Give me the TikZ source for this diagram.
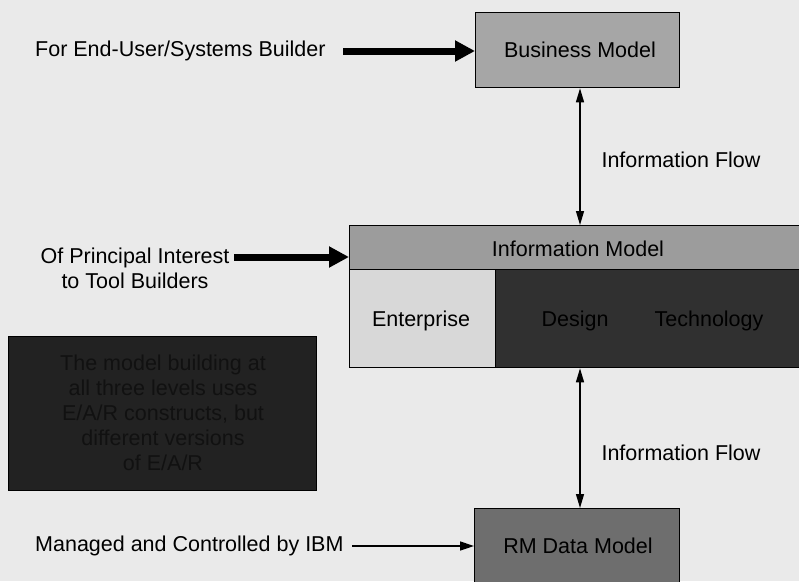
\documentclass[tikz,border=0pt]{standalone}
\usepackage{fontspec}
\setmainfont{Liberation Sans}
\usetikzlibrary{arrows.meta}
\definecolor{bg}{HTML}{EAEAEA}
\definecolor{midgray}{HTML}{A6A6A6}
\definecolor{hdrgray}{HTML}{9C9C9C}
\definecolor{lightbox}{HTML}{D8D8D8}
\definecolor{darksec}{HTML}{303030}
\definecolor{notebox}{HTML}{222222}
\definecolor{notetext}{HTML}{111111}
\definecolor{rmgray}{HTML}{6E6E6E}
\begin{document}
\begin{tikzpicture}[x=1pt,y=-1pt,
  every node/.style={font=\fontsize{21.5}{25}\selectfont, text=black},
  box/.style={draw=black, line width=1.3pt, inner sep=0pt, anchor=north west},
  lbl/.style={inner sep=2pt, anchor=west},
  thick arrow/.style={line width=7pt, -{Triangle[length=20pt,width=20pt]}},
  thin arrow/.style={line width=1.5pt, -{Triangle[length=14pt,width=9pt]}},
  flow/.style={line width=1.3pt, {Triangle[length=14pt,width=8pt]}-{Triangle[length=14pt,width=8pt]}}
]
\fill[bg] (0,0) rectangle (799,581);
\useasboundingbox (0,0) rectangle (799,581);

% Business model
\node[box, fill=midgray, minimum width=204pt, minimum height=75pt] (bm) at (475,12) {};
\node at (580,50) {Business Model};

% Information model
\node[box, fill=hdrgray, minimum width=452pt, minimum height=44pt] (im) at (349,225) {};
\node at (578,249) {Information Model};
\node[box, fill=lightbox, minimum width=146pt, minimum height=98pt] (ent) at (349,269) {};
\node[box, fill=darksec, minimum width=306pt, minimum height=98pt] (dt) at (495,269) {};
\node at (421,321) {Enterprise};
\node at (575,321) {Design};
\node at (709,321) {Technology};

% RM data model
\node[box, fill=rmgray, minimum width=205pt, minimum height=80pt] (rm) at (474,508) {};
\node at (578,546) {RM Data Model};

% Note box
\node[box, fill=notebox, minimum width=308pt, minimum height=154pt] (note) at (8,336) {};
\node[align=center, text=notetext] at (163,413)
  {The model building at\\all three levels uses\\E/A/R constructs, but\\different versions\\of E/A/R};

% Left labels
\node[lbl] (l1) at (33,51) {For End-User/Systems Builder};
\node[lbl, align=center, anchor=center] (l2) at (135,268) {Of Principal Interest\\to Tool Builders};
\node[lbl] (l3) at (33,546) {Managed and Controlled by IBM};

% Arrows from labels
\draw[thick arrow] (343,51) -- (bm.west |- 0,51);
\draw[thick arrow] (234,257) -- (im.west |- 0,257);
\draw[thin arrow] (352,546) -- (rm.west |- 0,546);

% Information flow arrows
\coordinate (ax) at (580,0);
\draw[flow] (bm.south -| ax) -- (im.north -| ax);
\draw[flow] (dt.south -| ax) -- (rm.north -| ax);
\node[anchor=west] (f1) at (598,160) {Information Flow};
\node[anchor=west] (f2) at (598,453) {Information Flow};
\end{tikzpicture}
\end{document}
